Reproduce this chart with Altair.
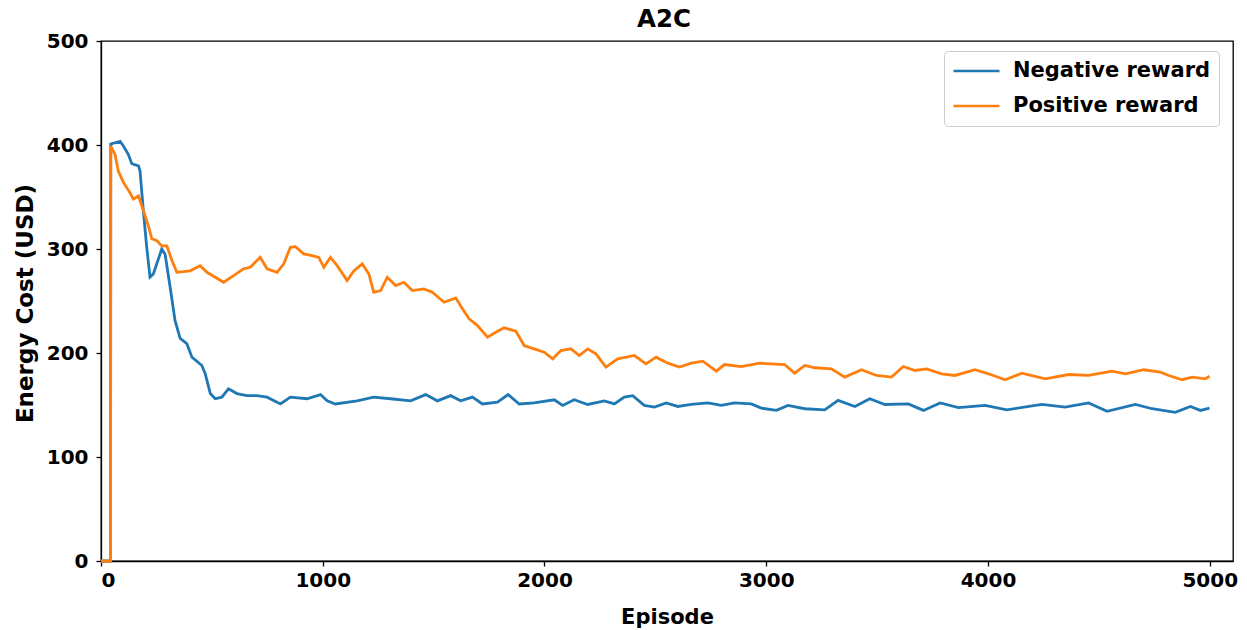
import altair as alt
import pandas as pd

# Episode / energy cost readings for the two reward schemes
neg_ep = [0, 43, 44, 86, 101, 123, 139, 169, 176, 191, 206, 221, 236, 274, 289, 312,
          334, 357, 387, 410, 455, 470, 493, 515, 545, 575, 613, 658, 703, 749, 809,
          854, 929, 990, 1020, 1057, 1155, 1230, 1306, 1396, 1464, 1517, 1577, 1622,
          1675, 1720, 1788, 1836, 1886, 1953, 2044, 2082, 2134, 2195, 2270, 2315, 2360,
          2398, 2450, 2496, 2549, 2601, 2662, 2737, 2797, 2857, 2933, 2978, 3046, 3098,
          3174, 3264, 3324, 3400, 3467, 3535, 3641, 3709, 3784, 3867, 3987, 4085, 4243,
          4348, 4454, 4537, 4665, 4740, 4845, 4913, 4958, 4999]
neg_cost = [0, 0, 401, 403.5, 399, 391, 382, 380, 375, 337, 302, 273, 276, 300, 295, 263,
            231, 214, 209, 196, 188, 180, 161, 156, 157.5, 165.6, 161, 159, 159, 157.5, 151,
            157.5, 156, 160, 154, 151, 154, 157.5, 156, 154, 160, 154, 159, 154,
            157.6, 151, 152.7, 160, 151, 152, 155, 149.6, 155, 150.5, 154, 151, 157.6,
            159, 149.6, 148, 152, 148.6, 150.5, 152, 149.6, 152, 151, 147, 144.8, 149.6,
            146.4, 145.4, 154.4, 148.6, 156, 150.5, 151, 144.8, 152, 147.4, 149.6, 145.4, 150.5,
            148, 152, 144, 150.5, 146.4, 143, 148.6, 144.8, 147]

pos_ep = [0, 43, 44, 63, 78, 101, 131, 146, 169, 191, 214, 229, 252, 274, 297, 320, 342,
          402, 447, 478, 553, 598, 643, 673, 718, 749, 794, 824, 854, 877, 914, 952, 982,
          1005, 1035, 1065, 1110, 1140, 1178, 1208, 1230, 1261, 1291, 1329, 1366, 1404,
          1456, 1494, 1547, 1600, 1630, 1660, 1698, 1743, 1780, 1818, 1871, 1908, 1953,
          1999, 2037, 2074, 2119, 2157, 2195, 2232, 2277, 2330, 2405, 2458, 2503, 2556,
          2609, 2662, 2714, 2775, 2812, 2887, 2970, 3083, 3128, 3174, 3219, 3294, 3354,
          3430, 3497, 3565, 3618, 3671, 3723, 3791, 3851, 3942, 4002, 4077, 4153, 4258,
          4364, 4454, 4559, 4620, 4703, 4778, 4815, 4876, 4921, 4981, 4999]
pos_cost = [0, 0, 399, 391, 375, 364, 354, 348, 351, 337, 322, 310, 308, 303, 303, 289, 277.6,
            279, 284, 277.6, 268, 274.4, 281, 282.4, 292, 281, 277.6, 285.7, 301.6, 302.3, 295.3, 293.7, 292,
            282.4, 292, 284, 269.6, 279, 285.7, 276, 258.4, 260, 272.8, 264.8, 268, 260,
            261.7, 258.4, 248.8, 253, 242.5, 232.9, 226.4, 215.2, 220, 224.2, 221, 207.2, 204,
            200.8, 194.4, 202.4, 204, 197.6, 204, 199.2, 186.4, 194.4, 197.6, 189.6, 196, 190.2,
            186.4, 190.2, 192.1, 182.5, 188.9, 187, 190.2, 188.9, 180.6, 188, 185.8, 184.8, 176.8,
            183.9, 178.4, 176.8, 187, 183.2, 184.8, 180, 178.4, 183.9, 180, 174.3, 180.6, 175.2,
            179.3, 178.4, 182.5, 180, 183.9, 181.6, 178.4, 174.3, 176.8, 175.2, 177.7]

series_names = ["Negative reward", "Positive reward"]
series_colors = ["#1f77b4", "#ff7f0e"]
x_ticks = [0, 1000, 2000, 3000, 4000, 5000]
y_ticks = [0, 100, 200, 300, 400, 500]

df = pd.concat([
    pd.DataFrame({"Episode": neg_ep, "Cost": neg_cost, "Series": series_names[0]}),
    pd.DataFrame({"Episode": pos_ep, "Cost": pos_cost, "Series": series_names[1]}),
], ignore_index=True)

FONT = "DejaVu Sans"
W, H = 1132, 520

chart = alt.Chart(df).mark_line(strokeWidth=2.8).encode(
    x=alt.X("Episode:Q",
            scale=alt.Scale(domain=[0, 5105], nice=False, zero=False),
            axis=alt.Axis(values=x_ticks, title="Episode", format="d",
                          titleX=W / 2, titleY=62, titleBaseline="alphabetic",
                          titleAnchor="middle", titleFontSize=21)),
    y=alt.Y("Cost:Q",
            scale=alt.Scale(domain=[0, 500], nice=False),
            axis=alt.Axis(values=y_ticks, title="Energy Cost (USD)",
                          titleX=-69, titleY=262, titleAngle=270,
                          titleBaseline="alphabetic", titleAlign="center",
                          titleFontSize=23, labelPadding=8)),
    color=alt.Color("Series:N",
                    scale=alt.Scale(domain=series_names, range=series_colors),
                    legend=alt.Legend(title=None, orient="none", legendX=843, legendY=10)),
).properties(
    width=W,
    height=H,
    title=alt.TitleParams("A2C", fontSize=24.5, fontWeight="bold", font=FONT,
                          anchor="middle", offset=2.5, baseline="alphabetic",
                          dx=-3, dy=23, color="black"),
    padding={"left": 101, "top": 41, "right": 14, "bottom": 69},
    autosize=alt.AutoSizeParams(type="none"),
).configure_view(
    stroke="black", strokeWidth=1.3
).configure_axis(
    grid=False,
    domainColor="black", domainWidth=1.3,
    tickColor="black", tickWidth=1.3, tickSize=5,
    labelFont=FONT, labelFontSize=20, labelFontWeight="bold", labelColor="black",
    labelPadding=5,
    titleFont=FONT, titleFontWeight="bold", titleColor="black",
).configure_axisX(
    labelPadding=4,
).configure_legend(
    labelFont=FONT, labelFontSize=21, labelFontWeight="bold", labelColor="black",
    labelLimit=400,
    symbolType="stroke", symbolStrokeWidth=2.5, symbolSize=2116,
    clipHeight=24, labelOffset=12, rowPadding=11,
    strokeColor="#cccccc", fillColor="white", padding=8, cornerRadius=4,
)

chart.save("out.html", embed_options={"renderer": "svg", "actions": False})
